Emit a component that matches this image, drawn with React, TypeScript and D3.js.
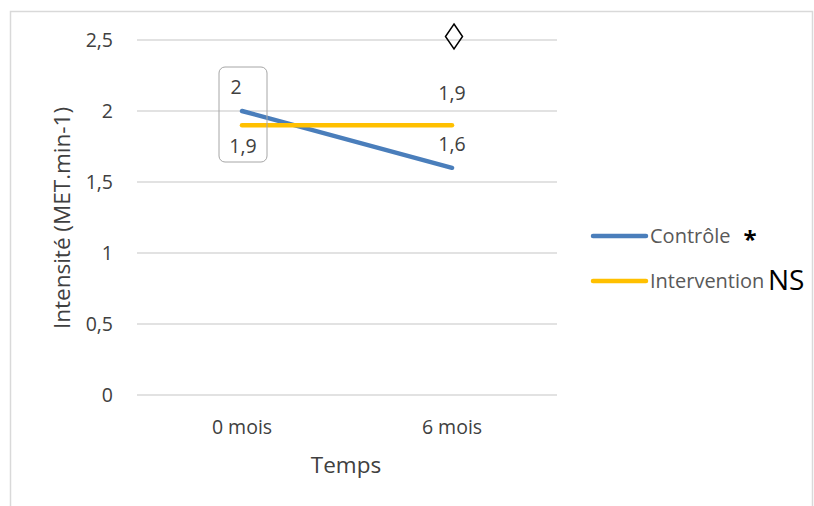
import React from "react";
import * as d3 from "d3";

const categories = ["0 mois", "6 mois"];
const controle = [2, 1.6];
const intervention = [1.9, 1.9];
const yTicks = [0, 0.5, 1, 1.5, 2, 2.5];
const seriesNames = ["Contrôle", "Intervention"];
const seriesMarks = ["*", "NS"];

const W = 814;
const H = 506;
const FONT = "'Open Sans', 'Liberation Sans', sans-serif";
const FS = 19.5;

export default function App() {
  const x = d3.scalePoint<string>().domain(categories).range([137, 557]).padding(0.5);
  const y = d3.scaleLinear().domain([0, 2.5]).range([395, 40]);
  const fmt = (v: number) => String(v).replace(".", ",");
  const line = d3
    .line<number>()
    .x((_, i) => x(categories[i]) as number)
    .y((d) => y(d));
  const series = [
    { name: seriesNames[0], mark: seriesMarks[0], data: controle, color: "#4a7ebb" },
    { name: seriesNames[1], mark: seriesMarks[1], data: intervention, color: "#ffc000" },
  ];
  const x0 = x(categories[0]) as number;
  const x1 = x(categories[1]) as number;

  return (
    <svg
      width={W}
      height={H}
      style={{ position: "absolute", left: 0, top: 0, fontFamily: FONT }}
    >
      <rect x={10.5} y={11.5} width={802} height={520} fill="#fff" stroke="#d9d9d9" strokeWidth={1.5} />
      {yTicks.map((t) => (
        <g key={t}>
          <line x1={137} x2={557} y1={y(t)} y2={y(t)} stroke="#d9d9d9" strokeWidth={1.3} />
          <text x={113} y={y(t)} dy="0.35em" textAnchor="end" fontSize={FS} fill="#404040">
            {fmt(t)}
          </text>
        </g>
      ))}
      {categories.map((c) => (
        <text key={c} x={x(c)} y={427} dy="0.35em" textAnchor="middle" fontSize={FS} fill="#404040">
          {c}
        </text>
      ))}
      <text x={346} y={465} dy="0.35em" textAnchor="middle" fontSize={22.5} fill="#404040">
        Temps
      </text>
      <text
        transform={`translate(62,218) rotate(-90)`}
        dy="0.35em"
        textAnchor="middle"
        fontSize={22.5}
        fill="#404040"
      >
        Intensité (MET.min-1)
      </text>

      {series.map((s) => (
        <path
          key={s.name}
          d={line(s.data) || ""}
          fill="none"
          stroke={s.color}
          strokeWidth={4.5}
          strokeLinecap="round"
        />
      ))}

      {/* data label box at 0 mois */}
      <rect x={219} y={67} width={48} height={95} rx={6} fill="none" stroke="#a6a6a6" strokeWidth={1} />
      <text x={x0 - 6} y={y(controle[0]) - 24} dy="0.35em" textAnchor="middle" fontSize={FS} fill="#404040">
        {fmt(controle[0])}
      </text>
      <text x={x0 + 1} y={y(intervention[0]) + 21} dy="0.35em" textAnchor="middle" fontSize={FS} fill="#404040">
        {fmt(intervention[0])}
      </text>
      <text x={x1} y={y(intervention[1]) - 32} dy="0.35em" textAnchor="middle" fontSize={FS} fill="#404040">
        {fmt(intervention[1])}
      </text>
      <text x={x1} y={y(controle[1]) - 24} dy="0.35em" textAnchor="middle" fontSize={FS} fill="#404040">
        {fmt(controle[1])}
      </text>

      {/* diamond */}
      <path
        d={`M${x1 + 2},${24} L${x1 + 10.5},${36.5} L${x1 + 2},${49} L${x1 - 6.5},${36.5} Z`}
        fill="none"
        stroke="#000"
        strokeWidth={1.5}
      />

      {/* legend */}
      {series.map((s, i) => {
        const ly = 236 + i * 45;
        return (
          <g key={s.name}>
            <line x1={593} x2={646} y1={ly} y2={ly} stroke={s.color} strokeWidth={4.5} strokeLinecap="round" />
            <text x={650} y={ly} dy="0.35em" fontSize={20} fill="#595959">
              {s.name}
            </text>
          </g>
        );
      })}
      <text x={750} y={240} dy="0.35em" textAnchor="middle" fontSize={24} fontWeight="bold" fill="#000">
        {seriesMarks[0]}
      </text>
      <text x={768} y={280} dy="0.35em" fontSize={28} fill="#000">
        {seriesMarks[1]}
      </text>
    </svg>
  );
}
